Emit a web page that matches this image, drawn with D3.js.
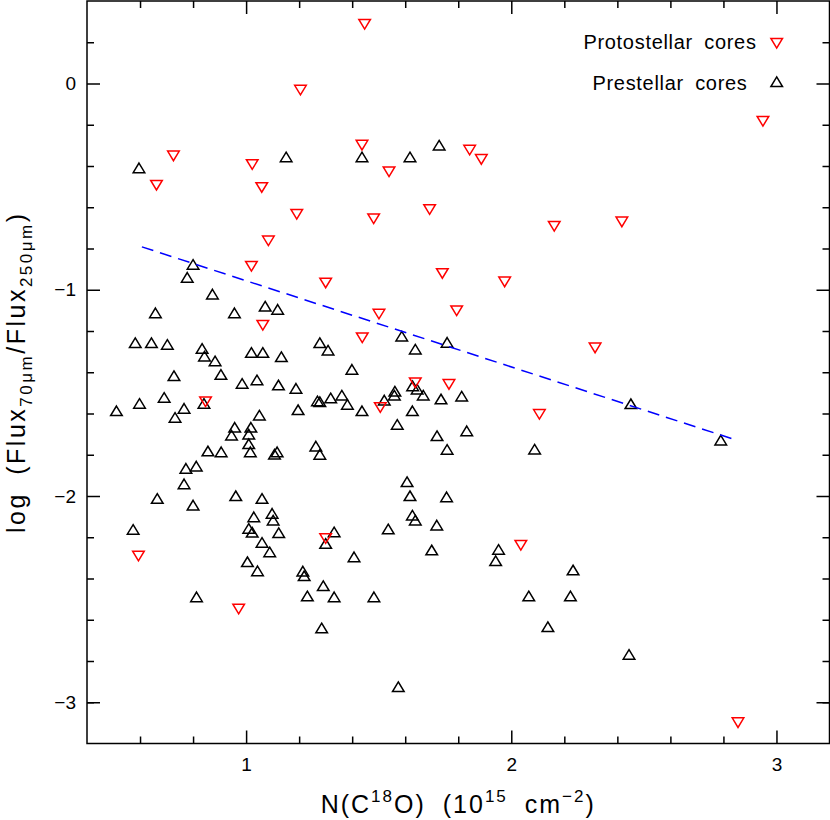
<!DOCTYPE html>
<html>
<head>
<meta charset="utf-8">
<script src="https://cdn.jsdelivr.net/npm/d3@7"></script>
<style>
  body { margin: 0; background: #fff; }
  svg { display: block; }
  text { font-family: "Liberation Sans", Arial, sans-serif; fill: #000; }
</style>
</head>
<body>
<script>
// protostellar cores (red, down triangles)
var protoX = [1.447,1.437,1.843,1.887,1.539,1.692,1.481,2.162,1.205,0.726,0.662,1.023,1.059,1.191,1.084,2.949,2.417,1.020,1.300,1.063,1.740,1.975,1.794,1.501,1.438,2.316,1.638,1.765,1.506,2.106,0.847,0.594,0.972,1.300,2.036,2.855];
var protoY = [0.287,-0.299,-0.323,-0.368,-0.428,-0.611,-0.656,-0.692,-0.032,-0.351,-0.493,-0.393,-0.504,-0.634,-0.763,-0.183,-0.671,-0.886,-0.967,-1.172,-0.921,-0.962,-1.102,-1.118,-1.233,-1.282,-1.451,-1.459,-1.571,-1.604,-1.543,-2.291,-2.548,-2.206,-2.239,-3.099];

// prestellar cores (black, up triangles)
var preX = [0.596,1.151,1.437,1.618,1.728,
  0.800,0.778,0.873,0.658,0.956,1.072,1.119,0.582,0.643,0.703,0.834,0.843,0.883,1.020,1.063,1.133,1.278,1.309,0.728,0.905,0.985,1.041,1.122,1.188,0.511,0.598,0.691,0.841,0.766,0.732,1.050,1.196,1.269,1.278,1.319,0.957,1.018,0.945,1.010,1.010,0.856,0.906,1.016,1.107,1.117,1.263,1.278,0.773,0.812,0.766,
  1.587,1.638,1.758,1.399,1.628,1.645,1.561,1.559,1.668,1.361,1.382,1.437,1.521,1.627,1.735,1.813,1.570,1.720,1.832,1.758,2.088,1.607,2.451,2.790,
  0.665,0.800,0.961,1.060,1.029,1.098,1.102,1.010,1.023,1.123,0.574,1.060,1.089,1.005,1.043,1.214,1.219,1.300,1.332,1.291,1.231,1.332,0.813,1.285,
  1.618,1.756,1.627,1.638,1.536,1.719,1.407,1.700,1.952,1.941,2.233,1.482,2.066,2.223,2.138,1.574,2.444];
var preY = [-0.409,-0.356,-0.356,-0.356,-0.299,
  -0.877,-0.940,-1.021,-1.112,-1.112,-1.080,-1.095,-1.257,-1.257,-1.265,-1.285,-1.322,-1.345,-1.304,-1.304,-1.325,-1.257,-1.293,-1.417,-1.411,-1.454,-1.437,-1.462,-1.478,-1.587,-1.551,-1.522,-1.551,-1.575,-1.619,-1.608,-1.582,-1.539,-1.543,-1.525,-1.667,-1.667,-1.705,-1.700,-1.747,-1.782,-1.786,-1.786,-1.797,-1.786,-1.758,-1.798,-1.866,-1.855,-1.941,
  -1.225,-1.288,-1.255,-1.386,-1.466,-1.482,-1.492,-1.511,-1.511,-1.511,-1.556,-1.587,-1.535,-1.587,-1.530,-1.516,-1.653,-1.708,-1.684,-1.774,-1.773,-1.931,-1.553,-1.729,
  -2.012,-2.044,-1.999,-2.012,-2.101,-2.084,-2.117,-2.157,-2.176,-2.178,-2.162,-2.225,-2.271,-2.319,-2.363,-2.364,-2.387,-2.230,-2.174,-2.435,-2.485,-2.489,-2.489,-2.640,
  -1.999,-2.004,-2.093,-2.117,-2.160,-2.141,-2.295,-2.262,-2.259,-2.314,-2.359,-2.489,-2.485,-2.485,-2.634,-2.925,-2.768];

// fitted relation (blue dashed)
var fitX = [0.607, 2.830];
var fitY = [-0.792, -1.721];

var xMajor = [1, 2, 3];
var yMajor = [-3, -2, -1, 0];
var xMinor = [0.6, 0.8, 1.2, 1.4, 1.6, 1.8, 2.2, 2.4, 2.6, 2.8];
var yMinor = [-3.0, -2.8, -2.6, -2.4, -2.2, -1.8, -1.6, -1.4, -1.2, -0.8, -0.6, -0.4, -0.2, 0.2];

var width = 830, height = 820;
var margin = {left: 87, top: 1},
  w = 742.5, h = 742.5;

var x = d3.scaleLinear().domain([0.4, 3.2]).range([0, w]);
var y = d3.scaleLinear().domain([-3.2, 0.4]).range([h, 0]);

var svg = d3.select("body").append("svg")
  .attr("width", width)
  .attr("height", height);
var g = svg.append("g")
  .attr("transform", "translate(" + margin.left + "," + margin.top + ")");

function minus(v) { return v < 0 ? "\u2212" + Math.abs(v) : "" + v; }

// axes, ticks pointing inward on all four sides
function styleAxis(sel) {
  sel.select(".domain").remove();
  sel.selectAll("line").attr("stroke", "#000").attr("stroke-width", 1.5);
  sel.selectAll("text").style("font-family", "'Liberation Sans', Arial, sans-serif")
    .style("font-size", "19px");
}
g.append("g").attr("transform", "translate(0," + h + ")")
  .call(d3.axisBottom(x).tickValues(xMajor).tickSize(-13).tickPadding(14).tickFormat(minus))
  .call(styleAxis);
g.append("g").attr("transform", "translate(0," + h + ")")
  .call(d3.axisBottom(x).tickValues(xMinor).tickSize(-7).tickFormat(""))
  .call(styleAxis);
g.append("g")
  .call(d3.axisTop(x).tickValues(xMajor).tickSize(-13).tickFormat(""))
  .call(styleAxis);
g.append("g")
  .call(d3.axisTop(x).tickValues(xMinor).tickSize(-7).tickFormat(""))
  .call(styleAxis);
g.append("g")
  .call(d3.axisLeft(y).tickValues(yMajor).tickSize(-13).tickPadding(11).tickFormat(minus))
  .call(styleAxis);
g.append("g")
  .call(d3.axisLeft(y).tickValues(yMinor).tickSize(-7).tickFormat(""))
  .call(styleAxis);
g.append("g").attr("transform", "translate(" + w + ",0)")
  .call(d3.axisRight(y).tickValues(yMajor).tickSize(-13).tickFormat(""))
  .call(styleAxis);
g.append("g").attr("transform", "translate(" + w + ",0)")
  .call(d3.axisRight(y).tickValues(yMinor).tickSize(-7).tickFormat(""))
  .call(styleAxis);

g.append("rect")
  .attr("width", w).attr("height", h)
  .attr("fill", "none").attr("stroke", "#000").attr("stroke-width", 1.5);

// markers
var upTri = "M0,-4.8L5.8,4.8L-5.8,4.8Z",
  downTri = "M-5.8,-4.8L5.8,-4.8L0,4.8Z";

var pre = d3.range(preX.length).map(function (i) { return [preX[i], preY[i]]; });
var proto = d3.range(protoX.length).map(function (i) { return [protoX[i], protoY[i]]; });

g.append("g").selectAll("path")
  .data(pre)
  .enter().append("path")
  .attr("d", upTri)
  .attr("transform", function (d) { return "translate(" + x(d[0]) + "," + y(d[1]) + ")"; })
  .attr("fill", "none").attr("stroke", "#000").attr("stroke-width", 1.5);

g.append("g").selectAll("path")
  .data(proto)
  .enter().append("path")
  .attr("d", downTri)
  .attr("transform", function (d) { return "translate(" + x(d[0]) + "," + y(d[1]) + ")"; })
  .attr("fill", "none").attr("stroke", "#ff0000").attr("stroke-width", 1.5);

// fit line
var line = d3.line()
  .x(function (d) { return x(d[0]); })
  .y(function (d) { return y(d[1]); });
g.append("path")
  .datum(fitX.map(function (v, i) { return [v, fitY[i]]; }))
  .attr("d", line)
  .attr("fill", "none")
  .attr("stroke", "#0000ff")
  .attr("stroke-width", 1.5)
  .attr("stroke-dasharray", "12,7");

// legend
var legend = [
  {label: "Protostellar cores", path: downTri, color: "#ff0000", ty: 49, my: 43.3},
  {label: "Prestellar cores", path: upTri, color: "#000", ty: 90, my: 81.7}
];
legend.forEach(function (l) {
  svg.append("text")
    .attr("x", 670).attr("y", l.ty)
    .attr("text-anchor", "middle")
    .style("font-size", "20px")
    .style("letter-spacing", "0.7px")
    .style("word-spacing", "5px")
    .text(l.label);
  svg.append("path")
    .attr("d", l.path)
    .attr("transform", "translate(776.7," + l.my + ")")
    .attr("fill", "none").attr("stroke", l.color).attr("stroke-width", 1.5);
});

// axis titles
var xt = svg.append("text")
  .attr("x", margin.left + w / 2).attr("y", 813)
  .attr("text-anchor", "middle")
  .style("font-size", "25px")
  .style("letter-spacing", "2px")
  .style("word-spacing", "8px");
xt.append("tspan").text("N(C");
xt.append("tspan").attr("dy", -11).style("font-size", "17px").text("18");
xt.append("tspan").attr("dy", 11).text("O) (10");
xt.append("tspan").attr("dy", -11).style("font-size", "17px").text("15");
xt.append("tspan").attr("dy", 11).text(" cm");
xt.append("tspan").attr("dy", -11).style("font-size", "17px").text("\u22122");
xt.append("tspan").attr("dy", 11).text(")");

var yt = svg.append("text")
  .attr("transform", "translate(25," + (margin.top + h / 2) + ")rotate(-90)")
  .attr("text-anchor", "middle")
  .style("font-size", "25px")
  .style("letter-spacing", "2.5px")
  .style("word-spacing", "8px");
yt.append("tspan").text("log (Flux");
yt.append("tspan").attr("dy", 7).style("font-size", "17px").text("70\u03bcm");
yt.append("tspan").attr("dy", -7).text("/Flux");
yt.append("tspan").attr("dy", 7).style("font-size", "17px").text("250\u03bcm");
yt.append("tspan").attr("dy", -7).text(")");
</script>
</body>
</html>
